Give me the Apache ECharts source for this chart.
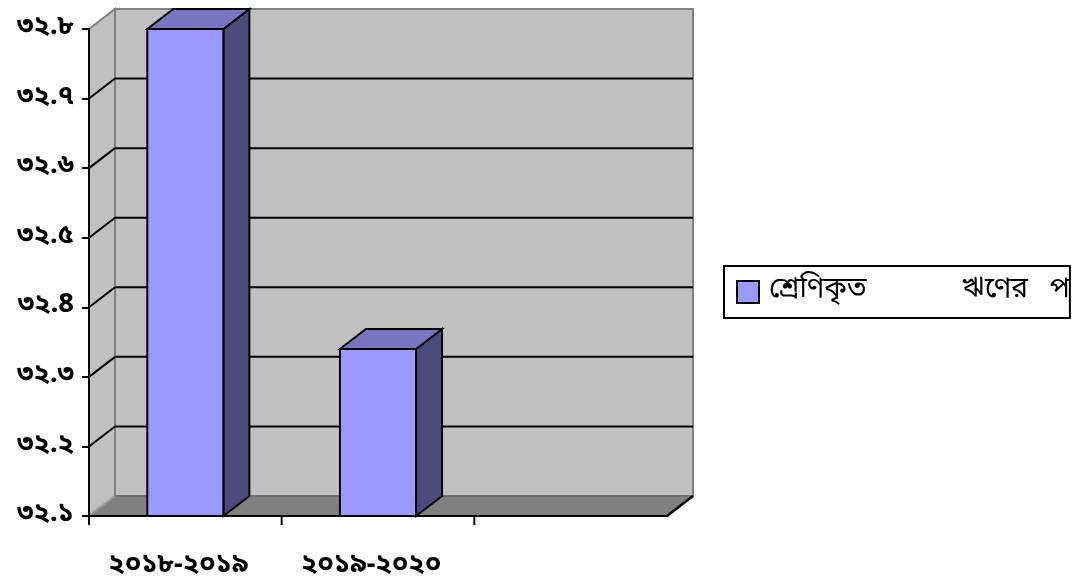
<!DOCTYPE html>
<html>
<head>
<meta charset="utf-8">
<script src="https://cdn.jsdelivr.net/npm/echarts@6/dist/echarts.min.js"></script>
<style>
html,body{margin:0;padding:0;background:#fff;}
#c{width:1077px;height:585px;}
</style>
</head>
<body>
<div id="c"></div>
<script>
// ---- data ----
var categories = ['২০১৮-২০১৯', '২০১৯-২০২০', ''];
var seriesName = 'শ্রেণিকৃত ঋণের পরিমাণ';
var legendVisibleText = 'শ্রেণিকৃত             ঋণের   প';
var values = [32.8, 32.34];
var yTickValues = [32.1, 32.2, 32.3, 32.4, 32.5, 32.6, 32.7, 32.8];
var yTickLabels = ['৩২.১', '৩২.২', '৩২.৩', '৩২.8', '৩২.৫', '৩২.৬', '৩২.৭', '৩২.৮'];

// ---- style constants ----
var DX = 26, DY = -20;
var FONT = '"Noto Sans Bengali", "Noto Sans", "DejaVu Sans", sans-serif';

var chart = echarts.init(document.getElementById('c'), null, {renderer: 'canvas'});

function wallsRender(params, api) {
  var cs = params.coordSys;
  var x0 = cs.x, x1 = cs.x + cs.width;
  var yMin = yTickValues[0], yMax = yTickValues[yTickValues.length - 1];
  var yb = api.coord([0, yMin])[1];
  var yt = api.coord([0, yMax])[1];
  var children = [];
  // back wall
  children.push({type: 'polygon', shape: {points: [[x0 + DX, yt + DY], [x1 + DX, yt + DY], [x1 + DX, yb + DY], [x0 + DX, yb + DY]]},
    style: {fill: '#c0c0c0', stroke: '#808080', lineWidth: 2}});
  // left wall
  children.push({type: 'polygon', shape: {points: [[x0, yt], [x0 + DX, yt + DY], [x0 + DX, yb + DY], [x0, yb]]},
    style: {fill: '#c0c0c0', stroke: '#808080', lineWidth: 2}});
  // grid lines
  for (var i = 1; i < yTickValues.length - 1; i++) {
    var y = api.coord([0, yTickValues[i]])[1];
    children.push({type: 'line', shape: {x1: x0 + DX, y1: y + DY, x2: x1 + DX, y2: y + DY}, style: {stroke: '#000', lineWidth: 2}});
    children.push({type: 'line', shape: {x1: x0, y1: y, x2: x0 + DX, y2: y + DY}, style: {stroke: '#000', lineWidth: 2}});
  }
  // floor
  children.push({type: 'polygon', shape: {points: [[x0, yb], [x1, yb], [x1 + DX, yb + DY], [x0 + DX, yb + DY]]},
    style: {fill: '#808080', stroke: null}});
  children.push({type: 'line', shape: {x1: x0 + DX, y1: yb + DY, x2: x1 + DX, y2: yb + DY}, style: {stroke: '#707070', lineWidth: 2}});
  children.push({type: 'line', shape: {x1: x0, y1: yb, x2: x0 + DX, y2: yb + DY}, style: {stroke: '#a0a0a0', lineWidth: 1.5}});
  children.push({type: 'line', shape: {x1: x1, y1: yb, x2: x1 + DX, y2: yb + DY}, style: {stroke: '#000', lineWidth: 2.5}});
  // category boundary ticks below the front floor edge (all but the last)
  var band = api.size([1, 0])[0];
  for (var c = 0; c < categories.length; c++) {
    var tx = api.coord([c, yMin])[0] - band / 2;
    children.push({type: 'line', shape: {x1: tx, y1: yb, x2: tx, y2: yb + 9}, style: {stroke: '#000', lineWidth: 2}});
  }
  return {type: 'group', children: children};
}

function barRender(params, api) {
  var cat = api.value(0), v = api.value(1);
  var top = api.coord([cat, v]);
  var base = api.coord([cat, yTickValues[0]]);
  var bw = api.size([1, 0])[0] * 0.395;
  var xa = top[0] - bw / 2, xb = top[0] + bw / 2;
  var yt = top[1], yb = base[1];
  var stroke = {stroke: '#000', lineWidth: 2, lineJoin: 'miter'};
  return {type: 'group', children: [
    {type: 'polygon', shape: {points: [[xb, yt], [xb + DX, yt + DY], [xb + DX, yb + DY], [xb, yb]]},
      style: Object.assign({fill: '#4b4b7c'}, stroke)},
    {type: 'polygon', shape: {points: [[xa, yt], [xb, yt], [xb + DX, yt + DY], [xa + DX, yt + DY]]},
      style: Object.assign({fill: '#7676c2'}, stroke)},
    {type: 'rect', shape: {x: xa, y: yt, width: bw, height: yb - yt},
      style: Object.assign({fill: '#9999ff'}, stroke)}
  ]};
}

var option = {
  animation: false,
  backgroundColor: '#ffffff',
  grid: {left: 89, right: 410, top: 29, bottom: 69, containLabel: false},
  legend: {
    data: [seriesName],
    formatter: function () { return legendVisibleText; },
    left: 724, top: 266,
    orient: 'vertical',
    padding: [12, 0, 12, 12],
    borderColor: '#000', borderWidth: 2,
    itemWidth: 22, itemHeight: 22,
    icon: 'rect',
    itemStyle: {color: '#9999ff', borderColor: '#000', borderWidth: 2},
    textStyle: {fontFamily: FONT, fontSize: 28, color: '#000', padding: [0, 0, 0, 5]}
  },
  xAxis: {
    type: 'category', data: categories, z: 10,
    boundaryGap: true,
    axisLine: {lineStyle: {color: '#000', width: 2}},
    axisTick: {show: false},
    axisLabel: {margin: 37, fontFamily: FONT, fontSize: 27, fontWeight: 'bold', color: '#000', interval: 0,
      padding: [0, 14, 0, 0]},
    splitLine: {show: false}
  },
  yAxis: {
    type: 'value', min: 32.1, max: 32.8, interval: 0.1, z: 10,
    axisLine: {show: true, lineStyle: {color: '#000', width: 2}},
    axisTick: {show: true, length: 7, lineStyle: {color: '#000', width: 2}},
    axisLabel: {margin: 15, fontFamily: FONT, fontSize: 27, fontWeight: 'bold', color: '#000',
      formatter: function (v) {
        var idx = Math.round((v - yTickValues[0]) / 0.1);
        return yTickLabels[idx] !== undefined ? yTickLabels[idx] : '';
      }},
    splitLine: {show: false}
  },
  series: [
    {type: 'custom', name: 'walls', z: 1, silent: true, renderItem: wallsRender, data: [[0, 32.1]], clip: false},
    {type: 'custom', name: seriesName, z: 3, renderItem: barRender, itemStyle: {color: '#9999ff'},
      data: values.map(function (v, i) { return [i, v]; }), clip: false}
  ]
};
chart.setOption(option);
</script>
</body>
</html>
